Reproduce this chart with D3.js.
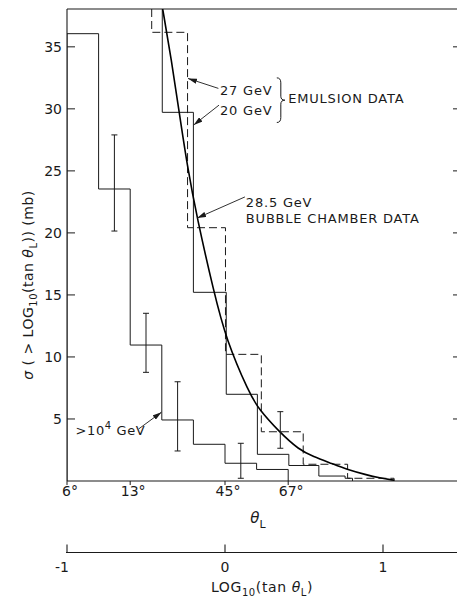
<!DOCTYPE html>
<html><head><meta charset="utf-8">
<script src="https://cdn.jsdelivr.net/npm/d3@7"></script>
<style>
body{margin:0;background:#fff}
svg text{font-family:"DejaVu Sans",sans-serif;fill:#1a1a1a}
</style>
</head><body>
<svg id="chart" width="457" height="600"></svg>
<script>
// ---------------- data ----------------
const yTicks = [5, 10, 15, 20, 25, 30, 35];
const thetaTickPos = [-1, -0.6, 0, 0.4];
const thetaTickLabels = ["6°", "13°", "45°", "67°"];
const logTicks = [-1, 0, 1];
const logTickLabels = ["-1", "0", "1"];

// >10^4 GeV histogram (bin edges in log10(tan θL), σ in mb)
const highEdges = [-1, -0.8, -0.6, -0.4, -0.2, 0, 0.2, 0.4];
const highValues = [36.06, 23.54, 10.96, 4.92, 2.96, 1.43, 0.93];
const highErrX = [-0.7, -0.5, -0.3, 0.1];
const highErrLo = [20.15, 8.76, 2.42, 0.22];
const highErrHi = [27.9, 13.52, 8.0, 3.04];

// 20 GeV emulsion (solid)
const em20Edges = [-0.397, -0.2, 0.008, 0.205, 0.404, 0.594, 0.76, 0.807];
const em20Values = [29.72, 15.21, 6.99, 2.15, 1.25, 0.4, 0.22];

// 27 GeV emulsion (dashed)
const em27Edges = [-0.464, -0.237, 0.003, 0.23, 0.495, 0.776, 1.07];
const em27Values = [36.17, 20.42, 10.21, 3.97, 1.35, 0.22];
const em27ErrX = [0.35];
const em27ErrLo = [2.64];
const em27ErrHi = [5.59];

// 28.5 GeV bubble chamber (smooth curve)
const bubbleL = [-0.3945, -0.339, -0.290, -0.238, -0.179, -0.070, 0.008, 0.154, 0.210, 0.342, 0.470, 0.555, 0.682, 0.767, 0.893, 0.978, 1.072];
const bubbleSigma = [38.05, 33.94, 29.72, 25.34, 21.31, 15.21, 11.37, 7.07, 5.85, 3.97, 2.50, 2.00, 1.38, 0.95, 0.50, 0.25, 0.06];

// ---------------- layout ----------------
const W = 457, H = 600;
const svg = d3.select("#chart");
const x = d3.scaleLinear().domain([-1, 1.5]).range([67, 462]);
const y = d3.scaleLinear().domain([0, 38.05]).range([481, 9]);
const ink = "#1a1a1a";

svg.append("defs").append("clipPath").attr("id", "plotClip")
  .append("rect").attr("x", x(-1)).attr("y", y(38.05))
  .attr("width", x(1.5) - x(-1)).attr("height", y(0) - y(38.05));

const defs = svg.select("defs");
defs.append("marker").attr("id", "arr").attr("viewBox", "0 0 10 6")
  .attr("refX", 10).attr("refY", 3).attr("markerWidth", 9).attr("markerHeight", 5.4)
  .attr("markerUnits", "userSpaceOnUse").attr("orient", "auto")
  .append("path").attr("d", "M0,0 L10,3 L0,6 Z").attr("fill", ink);

// frame
const frame = svg.append("g").attr("stroke", ink).attr("fill", "none").attr("stroke-width", 1.1);
frame.append("line").attr("x1", x(-1)).attr("x2", x(-1)).attr("y1", y(0)).attr("y2", y(38.05));
frame.append("line").attr("x1", x(-1)).attr("x2", W).attr("y1", y(38.05)).attr("y2", y(38.05));
frame.append("line").attr("x1", x(-1)).attr("x2", W).attr("y1", y(0)).attr("y2", y(0));

// y ticks (inward, left and right) and labels
const yt = svg.append("g");
yt.selectAll("line.l").data(yTicks).join("line").attr("class", "l")
  .attr("x1", x(-1)).attr("x2", x(-1) + 8).attr("y1", d => y(d)).attr("y2", d => y(d))
  .attr("stroke", ink).attr("stroke-width", 1);
yt.selectAll("line.r").data(yTicks).join("line").attr("class", "r")
  .attr("x1", W - 4).attr("x2", W).attr("y1", d => y(d)).attr("y2", d => y(d))
  .attr("stroke", ink).attr("stroke-width", 1);
yt.selectAll("text").data(yTicks).join("text")
  .attr("x", x(-1) - 5).attr("y", d => y(d)).attr("dy", "0.36em")
  .attr("text-anchor", "end").attr("font-size", 14).text(d => d);

// theta ticks on bottom axis
const xt = svg.append("g");
xt.selectAll("line").data(thetaTickPos).join("line")
  .attr("x1", d => x(d)).attr("x2", d => x(d)).attr("y1", y(0)).attr("y2", y(0) + 4)
  .attr("stroke", ink).attr("stroke-width", 1);
xt.selectAll("text").data(thetaTickPos).join("text")
  .attr("x", d => x(d) + 3).attr("y", y(0) + 15)
  .attr("text-anchor", "middle").attr("font-size", 14)
  .text((d, i) => thetaTickLabels[i]);

// theta_L label
const tl = svg.append("text").attr("x", 258).attr("y", 523).attr("text-anchor", "middle").attr("font-size", 15);
tl.append("tspan").attr("font-style", "italic").text("θ");
tl.append("tspan").attr("font-size", 11).attr("dy", 5).text("L");

// second axis: log10(tan θL)
const ay = 552.5;
const la = svg.append("g");
la.append("line").attr("x1", x(-1) - 1).attr("x2", W).attr("y1", ay).attr("y2", ay).attr("stroke", ink).attr("stroke-width", 1);
la.selectAll("line.t").data(logTicks).join("line").attr("class", "t")
  .attr("x1", d => x(d)).attr("x2", d => x(d)).attr("y1", ay).attr("y2", ay - 8)
  .attr("stroke", ink).attr("stroke-width", 1.1);
la.selectAll("text").data(logTicks).join("text")
  .attr("x", d => d < 0 ? x(d) + 2 : x(d)).attr("y", ay + 19)
  .attr("text-anchor", d => d < 0 ? "end" : "middle").attr("font-size", 14)
  .text((d, i) => logTickLabels[i]);
const lt = svg.append("text").attr("x", 262).attr("y", 592).attr("text-anchor", "middle").attr("font-size", 14).attr("letter-spacing", 0.6);
lt.append("tspan").text("LOG");
lt.append("tspan").attr("font-size", 10).attr("dy", 4).text("10");
lt.append("tspan").attr("dy", -4).text("(tan ");
lt.append("tspan").attr("font-style", "italic").text("θ");
lt.append("tspan").attr("font-size", 10).attr("dy", 4).text("L");
lt.append("tspan").attr("dy", -4).text(")");

// y title
const yTitle = svg.append("text").attr("transform", "translate(33,285) rotate(-90)")
  .attr("text-anchor", "middle").attr("font-size", 14).attr("letter-spacing", 0.5);
yTitle.append("tspan").attr("font-style", "italic").text("σ");
yTitle.append("tspan").text(" ( > LOG");
yTitle.append("tspan").attr("font-size", 10).attr("dy", 4).text("10");
yTitle.append("tspan").attr("dy", -4).text("(tan ");
yTitle.append("tspan").attr("font-style", "italic").text("θ");
yTitle.append("tspan").attr("font-size", 10).attr("dy", 4).text("L");
yTitle.append("tspan").attr("dy", -4).text(")) (mb)");

// ---------------- marks ----------------
const plot = svg.append("g").attr("clip-path", "url(#plotClip)");
const line = d3.line().x(d => x(d[0])).y(d => y(d[1]));

function stepPoints(edges, values, startVal) {
  const pts = [[edges[0], startVal]];
  values.forEach((v, i) => { pts.push([edges[i], v]); pts.push([edges[i + 1], v]); });
  pts.push([edges[edges.length - 1], 0]);
  return pts;
}

plot.append("path").attr("d", line(stepPoints(highEdges, highValues, 0)))
  .attr("fill", "none").attr("stroke", ink).attr("stroke-width", 1);
plot.append("path").attr("d", line(stepPoints(em20Edges, em20Values, 38.05)))
  .attr("fill", "none").attr("stroke", ink).attr("stroke-width", 1);
plot.append("path").attr("d", line(stepPoints(em27Edges, em27Values, 38.05)))
  .attr("fill", "none").attr("stroke", ink).attr("stroke-width", 1).attr("stroke-dasharray", "8,4");

const curve = d3.line().x(d => x(d[0])).y(d => y(d[1])).curve(d3.curveBasis);
plot.append("path").attr("d", curve(bubbleL.map((l, i) => [l, bubbleSigma[i]])))
  .attr("fill", "none").attr("stroke", "#000").attr("stroke-width", 1.6);

function errorBars(xs, lo, hi) {
  const g = plot.append("g").attr("stroke", ink).attr("stroke-width", 1);
  xs.forEach((xv, i) => {
    g.append("line").attr("x1", x(xv)).attr("x2", x(xv)).attr("y1", y(lo[i])).attr("y2", y(hi[i]));
    g.append("line").attr("x1", x(xv) - 3).attr("x2", x(xv) + 3).attr("y1", y(lo[i])).attr("y2", y(lo[i]));
    g.append("line").attr("x1", x(xv) - 3).attr("x2", x(xv) + 3).attr("y1", y(hi[i])).attr("y2", y(hi[i]));
  });
}
errorBars(highErrX, highErrLo, highErrHi);
errorBars(em27ErrX, em27ErrLo, em27ErrHi);

// ---------------- annotations (data units) ----------------
const annText = [
  { t: "27 GeV", L: -0.032, v: 31.12 },
  { t: "20 GeV", L: -0.032, v: 29.5 },
  { t: "EMULSION DATA", L: 0.40, v: 30.45 },
  { t: "28.5 GeV", L: 0.132, v: 22.09 },
  { t: "BUBBLE CHAMBER DATA", L: 0.132, v: 20.8 }
];
const arrows = [
  { L1: -0.042, v1: 31.65, L2: -0.234, v2: 32.45 },
  { L1: -0.038, v1: 30.3, L2: -0.198, v2: 28.7 },
  { L1: 0.126, v1: 22.9, L2: -0.176, v2: 21.2 },
  { L1: -0.547, v1: 4.19, L2: -0.402, v2: 5.55 }
];
svg.selectAll("text.ann").data(annText).join("text").attr("class", "ann")
  .attr("x", d => x(d.L)).attr("y", d => y(d.v)).attr("font-size", 13).attr("letter-spacing", 0.8)
  .text(d => d.t);
const hi = svg.append("text").attr("x", x(-0.946)).attr("y", y(3.7)).attr("font-size", 13).attr("letter-spacing", 0.6);
hi.append("tspan").text(">10");
hi.append("tspan").attr("font-size", 10).attr("dy", -6).text("4");
hi.append("tspan").attr("dy", 6).text(" GeV");

svg.selectAll("line.arrow").data(arrows).join("line").attr("class", "arrow")
  .attr("x1", d => x(d.L1)).attr("y1", d => y(d.v1)).attr("x2", d => x(d.L2)).attr("y2", d => y(d.v2))
  .attr("stroke", ink).attr("stroke-width", 0.9).attr("marker-end", "url(#arr)");

// brace
const bx = x(0.328), bt = y(32.5), bb = y(28.9), bm = (bt + bb) / 2, tip = x(0.379);
svg.append("path")
  .attr("d", `M${bx},${bt} Q${bx + 4},${bt} ${bx + 4},${bt + 5} L${bx + 4},${bm - 4} Q${bx + 4},${bm} ${tip},${bm} Q${bx + 4},${bm} ${bx + 4},${bm + 4} L${bx + 4},${bb - 5} Q${bx + 4},${bb} ${bx},${bb}`)
  .attr("fill", "none").attr("stroke", ink).attr("stroke-width", 1);
</script>
</body></html>
